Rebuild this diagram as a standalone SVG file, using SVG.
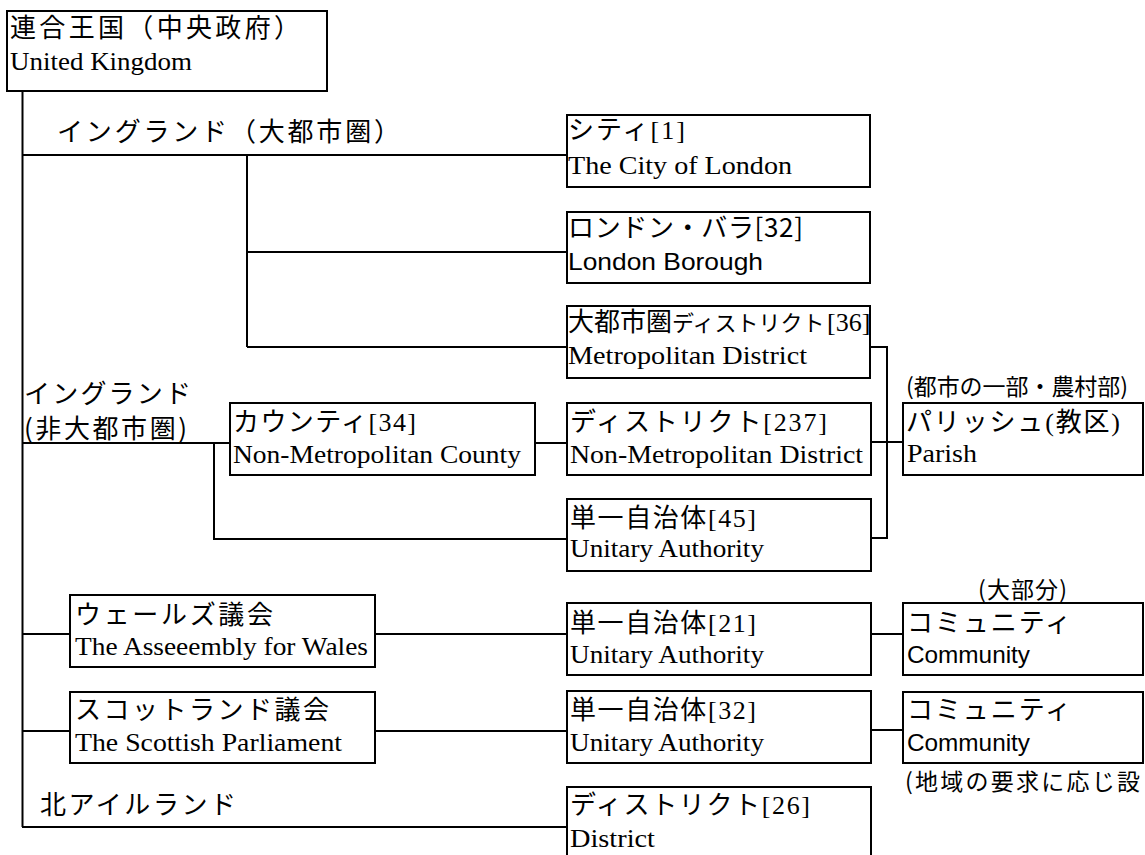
<svg xmlns="http://www.w3.org/2000/svg" width="1145" height="855" viewBox="0 0 1145 855">
<style>
.box{fill:#fff;stroke:#000;stroke-width:2}
.jp{font-family:"Noto Sans CJK JP","Noto Sans",sans-serif;font-size:26px;fill:#000}
.lb{font-family:"Noto Sans CJK JP","Noto Sans",sans-serif;font-size:23px;fill:#000}
.en{font-family:"Liberation Serif",serif;font-size:26px;fill:#000}
.sa{font-family:"Liberation Sans",sans-serif;font-size:24px;fill:#000}
.conn path{fill:none;stroke:#000;stroke-width:2}
</style>
<rect width="1145" height="855" fill="#fff"/>
<g class="conn" id="connectors">
<path d="M22.5,91 V827"/>
<path d="M22,155 H567"/>
<path d="M247,155 V347"/>
<path d="M247,252 H567"/>
<path d="M247,347 H567"/>
<path d="M870,347 H887 V538 H871"/>
<path d="M871,442 H903"/>
<path d="M22,443 H230"/>
<path d="M535,443 H567"/>
<path d="M214,443 V539 H567"/>
<path d="M22,634 H70"/>
<path d="M375,634 H567"/>
<path d="M871,634 H903"/>
<path d="M22,731 H70"/>
<path d="M375,731 H567"/>
<path d="M871,730 H903"/>
<path d="M22,827 H567"/>
</g>
<g id="n-uk">
<rect class="box" x="7" y="11" width="320" height="80"/>
<text class="jp" x="10" y="37" textLength="290" lengthAdjust="spacing">連合王国（中央政府）</text>
<text class="en" x="10" y="70" textLength="182" lengthAdjust="spacingAndGlyphs">United Kingdom</text>
</g>
<g id="l-england-metro">
<text class="jp" x="57" y="141" textLength="343" lengthAdjust="spacing">イングランド（大都市圏）</text>
</g>
<g id="n-city">
<rect class="box" x="567" y="115" width="303" height="72"/>
<text class="jp" x="568" y="139" textLength="117" lengthAdjust="spacing">シティ<tspan class="en">[1]</tspan></text>
<text class="en" x="568" y="174" textLength="224" lengthAdjust="spacingAndGlyphs">The City of London</text>
</g>
<g id="n-borough">
<rect class="box" x="567" y="212" width="303" height="71"/>
<text class="jp" x="568" y="237" textLength="235" lengthAdjust="spacing">ロンドン・バラ[32]</text>
<text class="sa" x="568" y="270" textLength="195" lengthAdjust="spacingAndGlyphs">London Borough</text>
</g>
<g id="n-metdistrict">
<rect class="box" x="567" y="306" width="303" height="72"/>
<text class="jp" x="568" y="331">大都市圏<tspan font-size="22">ディストリクト</tspan></text>
<text class="en" x="827" y="331" font-size="25">[36]</text>
<text class="en" x="568" y="364" textLength="239" lengthAdjust="spacingAndGlyphs">Metropolitan District</text>
</g>
<g id="l-england-nonmetro">
<text class="jp" x="24" y="403" font-size="24" textLength="167" lengthAdjust="spacing">イングランド</text>
<text class="jp" x="24" y="438" font-size="24" textLength="163" lengthAdjust="spacing">(非大都市圏)</text>
</g>
<g id="n-county">
<rect class="box" x="230" y="403" width="305" height="72"/>
<text class="jp" x="233" y="431" textLength="183" lengthAdjust="spacing">カウンティ<tspan class="en">[34]</tspan></text>
<text class="en" x="233" y="463" textLength="288" lengthAdjust="spacingAndGlyphs">Non-Metropolitan County</text>
</g>
<g id="n-district237">
<rect class="box" x="567" y="403" width="304" height="72"/>
<text class="jp" x="570" y="431" textLength="257" lengthAdjust="spacing">ディストリクト<tspan class="en">[237]</tspan></text>
<text class="en" x="570" y="463" textLength="293" lengthAdjust="spacingAndGlyphs">Non-Metropolitan District</text>
</g>
<g id="n-parish">
<text class="lb" x="906" y="395" textLength="222" lengthAdjust="spacing">(都市の一部・農村部)</text>
<rect class="box" x="903" y="403" width="240" height="72"/>
<text class="jp" x="906" y="431" textLength="214" lengthAdjust="spacing">パリッシュ<tspan class="en">(</tspan>教区<tspan class="en">)</tspan></text>
<text class="en" x="907" y="462" textLength="70" lengthAdjust="spacingAndGlyphs">Parish</text>
</g>
<g id="n-unitary45">
<rect class="box" x="567" y="499" width="304" height="72"/>
<text class="jp" x="570" y="527" textLength="186" lengthAdjust="spacing">単一自治体<tspan class="en">[45]</tspan></text>
<text class="en" x="570" y="557" textLength="194" lengthAdjust="spacingAndGlyphs">Unitary Authority</text>
</g>
<g id="n-wales">
<rect class="box" x="70" y="595" width="305" height="72"/>
<text class="jp" x="75" y="624" textLength="198" lengthAdjust="spacing">ウェールズ議会</text>
<text class="en" x="75" y="655" textLength="293" lengthAdjust="spacingAndGlyphs">The Asseeembly for Wales</text>
</g>
<g id="n-unitary21">
<rect class="box" x="567" y="603" width="304" height="72"/>
<text class="jp" x="570" y="632" textLength="186" lengthAdjust="spacing">単一自治体<tspan class="en">[21]</tspan></text>
<text class="en" x="570" y="663" textLength="194" lengthAdjust="spacingAndGlyphs">Unitary Authority</text>
</g>
<g id="n-community1">
<text class="lb" x="978" y="598" textLength="89" lengthAdjust="spacing">(大部分)</text>
<rect class="box" x="903" y="603" width="240" height="72"/>
<text class="jp" x="907" y="632" textLength="164" lengthAdjust="spacing">コミュニティ</text>
<text class="sa" x="907" y="663" textLength="123" lengthAdjust="spacingAndGlyphs">Community</text>
</g>
<g id="n-scotland">
<rect class="box" x="70" y="692" width="305" height="71"/>
<text class="jp" x="75" y="719" textLength="254" lengthAdjust="spacing">スコットランド議会</text>
<text class="en" x="75" y="751" textLength="267" lengthAdjust="spacingAndGlyphs">The Scottish Parliament</text>
</g>
<g id="n-unitary32">
<rect class="box" x="567" y="691" width="304" height="72"/>
<text class="jp" x="570" y="719" textLength="186" lengthAdjust="spacing">単一自治体<tspan class="en">[32]</tspan></text>
<text class="en" x="570" y="751" textLength="194" lengthAdjust="spacingAndGlyphs">Unitary Authority</text>
</g>
<g id="n-community2">
<rect class="box" x="903" y="692" width="240" height="71"/>
<text class="jp" x="907" y="719" textLength="164" lengthAdjust="spacing">コミュニティ</text>
<text class="sa" x="907" y="751" textLength="123" lengthAdjust="spacingAndGlyphs">Community</text>
<text class="lb" x="905" y="790" font-size="21" textLength="235" lengthAdjust="spacing">(地域の要求に応じ設</text>
</g>
<g id="l-ni">
<text class="jp" x="40" y="814" textLength="196" lengthAdjust="spacing">北アイルランド</text>
</g>
<g id="n-district26">
<rect class="box" x="567" y="787" width="304" height="90"/>
<text class="jp" x="570" y="814" textLength="240" lengthAdjust="spacing">ディストリクト<tspan class="en">[26]</tspan></text>
<text class="en" x="570" y="847" textLength="85" lengthAdjust="spacingAndGlyphs">District</text>
</g>
</svg>
